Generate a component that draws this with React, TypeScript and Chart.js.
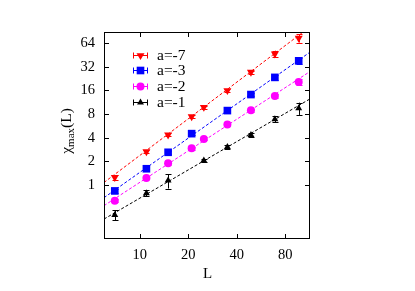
import React, { useEffect, useRef } from "react";
import { Chart, registerables } from "chart.js";
Chart.register(...registerables);

// ---- data ----
const seriesLabels = ["a=-7", "a=-3", "a=-2", "a=-1"];
const seriesColors = ["#ff0000", "#0000ff", "#ff00ff", "#000000"];

const redL = [7, 11, 15, 21, 25, 35, 49, 69, 97];
const redY = [1.25, 2.66, 4.35, 7.43, 9.8, 16.0, 27.4, 46.9, 74.3];
const redErr = [0.08, 0.12, 0.2, 0.3, 0.4, 0.7, 1.2, 4.5, 9];

const blueL = [7, 11, 15, 21, 35, 49, 69, 97];
const blueY = [0.84, 1.61, 2.61, 4.51, 8.87, 14.2, 23.5, 38.2];
const blueErr = [0.04, 0.07, 0.12, 0.2, 0.4, 0.7, 1.8, 3.5];

const magL = [7, 11, 15, 21, 25, 35, 49, 69, 97];
const magY = [0.63, 1.23, 1.89, 2.94, 3.86, 5.88, 8.97, 13.65, 20.6];
const magErr = [0.03, 0.05, 0.08, 0.12, 0.17, 0.25, 0.4, 0.7, 1.8];

const blackL = [7, 11, 15, 25, 35, 49, 69, 97];
const blackY = [0.415, 0.784, 1.14, 2.05, 3.05, 4.34, 6.89, 9.51];
const blackErr = [0.06, 0.07, 0.24, 0.1, 0.15, 0.25, 0.6, 1.7];

// fit lines: values at the two ends of the x range
const fitL = [6, 114];
const redFit = [1.076, 103.5];
const blueFit = [0.689, 49.3];
const magFit = [0.545, 27.9];
const blackFit = [0.368, 12.5];

const xTicks = [10, 20, 40, 80];
const yTicks = [1, 2, 4, 8, 16, 32, 64];
const xRange = [6, 114];
const yRange = [0.205, 89];

const pointStyles = ["triangle", "rect", "circle", "triangle"];
const pointRotations = [180, 0, 0, 0];
const pointRadii = [4.6, 5.4, 4.0, 4.0];

const seriesL = [redL, blueL, magL, blackL];
const seriesY = [redY, blueY, magY, blackY];
const seriesErr = [redErr, blueErr, magErr, blackErr];
const seriesFit = [redFit, blueFit, magFit, blackFit];

const FONT = "'Liberation Serif', 'DejaVu Serif', serif";

const decorPlugin = {
  id: "decor",
  afterDatasetsDraw(chart: any) {
    const ctx = chart.ctx;
    const xs = chart.scales.x;
    const ys = chart.scales.y;
    const area = chart.chartArea;
    ctx.save();
    ctx.beginPath();
    ctx.rect(area.left, area.top, area.right - area.left, area.bottom - area.top);
    ctx.clip();
    ctx.lineWidth = 1;
    for (let s = 0; s < seriesL.length; s++) {
      ctx.strokeStyle = seriesColors[s];
      for (let i = 0; i < seriesL[s].length; i++) {
        const px = Math.round(xs.getPixelForValue(seriesL[s][i])) + 0.5;
        const y1 = ys.getPixelForValue(seriesY[s][i] - seriesErr[s][i]);
        const y2 = ys.getPixelForValue(seriesY[s][i] + seriesErr[s][i]);
        ctx.beginPath();
        ctx.moveTo(px, y1);
        ctx.lineTo(px, y2);
        ctx.moveTo(px - 3, Math.round(y1) + 0.5);
        ctx.lineTo(px + 3, Math.round(y1) + 0.5);
        ctx.moveTo(px - 3, Math.round(y2) + 0.5);
        ctx.lineTo(px + 3, Math.round(y2) + 0.5);
        ctx.stroke();
      }
    }
    ctx.restore();
  },
  afterDraw(chart: any) {
    const ctx = chart.ctx;
    const xs = chart.scales.x;
    const ys = chart.scales.y;
    const a = chart.chartArea;
    ctx.save();
    ctx.strokeStyle = "#000";
    ctx.lineWidth = 1;
    ctx.strokeRect(a.left + 0.5, a.top + 0.5, a.right - a.left - 1, a.bottom - a.top - 1);
    const tl = 5;
    ctx.beginPath();
    for (const v of xTicks) {
      const px = Math.round(xs.getPixelForValue(v)) + 0.5;
      ctx.moveTo(px, a.bottom);
      ctx.lineTo(px, a.bottom - tl);
      ctx.moveTo(px, a.top);
      ctx.lineTo(px, a.top + tl);
    }
    for (const v of yTicks) {
      const py = Math.round(ys.getPixelForValue(v)) + 0.5;
      ctx.moveTo(a.left, py);
      ctx.lineTo(a.left + tl, py);
      ctx.moveTo(a.right, py);
      ctx.lineTo(a.right - tl, py);
    }
    ctx.stroke();

    ctx.fillStyle = "#000";
    ctx.font = "14.5px " + FONT;
    ctx.textAlign = "center";
    ctx.textBaseline = "middle";
    for (const v of xTicks) {
      ctx.fillText(String(v), xs.getPixelForValue(v), a.bottom + 16);
    }
    ctx.textAlign = "right";
    for (const v of yTicks) {
      ctx.fillText(String(v), a.left - 9, ys.getPixelForValue(v));
    }
    ctx.textAlign = "center";
    ctx.font = "15px " + FONT;
    ctx.fillText("L", (a.left + a.right) / 2 + 0.5, a.bottom + 35);

    // y title: χ_max(L)
    ctx.save();
    ctx.translate(68, 131);
    ctx.rotate(-Math.PI / 2);
    ctx.textAlign = "left";
    ctx.textBaseline = "middle";
    const big = "15.5px " + FONT;
    const small = "11px " + FONT;
    ctx.font = big;
    const w1 = ctx.measureText("χ").width;
    const w3 = ctx.measureText("(L)").width;
    ctx.font = small;
    const w2 = ctx.measureText("max").width;
    let x0 = -(w1 + w2 + w3) / 2;
    ctx.font = big;
    ctx.fillText("χ", x0, -1);
    ctx.font = small;
    ctx.fillText("max", x0 + w1, 3);
    ctx.font = big;
    ctx.fillText("(L)", x0 + w1 + w2, -1);
    ctx.restore();

    // legend
    const ly0 = 54.5;
    const dy = 15.8;
    for (let s = 0; s < seriesLabels.length; s++) {
      const y = Math.round(ly0 + s * dy) + 0.5;
      const xa = 133.5, xb = 147.5, xm = 140.5;
      ctx.strokeStyle = seriesColors[s];
      ctx.fillStyle = seriesColors[s];
      ctx.lineWidth = 1;
      ctx.beginPath();
      ctx.moveTo(xa, y);
      ctx.lineTo(xb, y);
      ctx.moveTo(xa, y - 3);
      ctx.lineTo(xa, y + 3);
      ctx.moveTo(xb, y - 3);
      ctx.lineTo(xb, y + 3);
      ctx.stroke();
      (Chart as any).helpers
        ? null
        : null;
      drawMarker(ctx, s, xm, y);
      ctx.fillStyle = "#000";
      ctx.font = "15.5px " + FONT;
      ctx.textAlign = "left";
      ctx.textBaseline = "middle";
      ctx.fillText(seriesLabels[s], 157, y);
    }
    ctx.restore();
  },
};

function drawMarker(ctx: CanvasRenderingContext2D, s: number, x: number, y: number) {
  const r = pointRadii[s];
  const st = pointStyles[s];
  ctx.beginPath();
  if (st === "circle") {
    ctx.arc(x, y, r, 0, Math.PI * 2);
  } else if (st === "rect") {
    const h = r * Math.SQRT1_2;
    ctx.rect(x - h, y - h, 2 * h, 2 * h);
  } else {
    let rad = (pointRotations[s] * Math.PI) / 180;
    ctx.moveTo(x + Math.sin(rad) * r, y - Math.cos(rad) * r);
    rad += (2 * Math.PI) / 3;
    ctx.lineTo(x + Math.sin(rad) * r, y - Math.cos(rad) * r);
    rad += (2 * Math.PI) / 3;
    ctx.lineTo(x + Math.sin(rad) * r, y - Math.cos(rad) * r);
    ctx.closePath();
  }
  ctx.fill();
}

export default function App() {
  const ref = useRef<HTMLCanvasElement>(null);
  useEffect(() => {
    if (!ref.current) return;
    const datasets: any[] = [];
    for (let s = 0; s < seriesLabels.length; s++) {
      datasets.push({
        label: seriesLabels[s] + " fit",
        type: "line",
        data: fitL.map((x, i) => ({ x, y: seriesFit[s][i] })),
        borderColor: seriesColors[s],
        borderWidth: 1,
        borderDash: [3, 2],
        pointRadius: 0,
        fill: false,
        order: 2,
      });
    }
    for (let s = 0; s < seriesLabels.length; s++) {
      datasets.push({
        label: seriesLabels[s],
        type: "scatter",
        data: seriesL[s].map((x, i) => ({ x, y: seriesY[s][i] })),
        backgroundColor: seriesColors[s],
        borderColor: seriesColors[s],
        borderWidth: 0,
        pointStyle: pointStyles[s],
        rotation: pointRotations[s],
        pointRadius: pointRadii[s],
        showLine: false,
        order: 1,
      });
    }
    const chart = new Chart(ref.current, {
      type: "scatter",
      data: { datasets },
      options: {
        animation: false,
        responsive: false,
        devicePixelRatio: 1,
        layout: { padding: { left: 104, right: 105, top: 32, bottom: 52 } },
        plugins: { legend: { display: false }, tooltip: { enabled: false } },
        scales: {
          x: { type: "logarithmic", min: xRange[0], max: xRange[1], display: false },
          y: { type: "logarithmic", min: yRange[0], max: yRange[1], display: false },
        },
      },
      plugins: [decorPlugin],
    } as any);
    return () => chart.destroy();
  }, []);
  return (
    <div style={{ position: "absolute", left: 0, top: 0, width: 415, height: 291, background: "#fff" }}>
      <canvas ref={ref} width={415} height={291} />
    </div>
  );
}
